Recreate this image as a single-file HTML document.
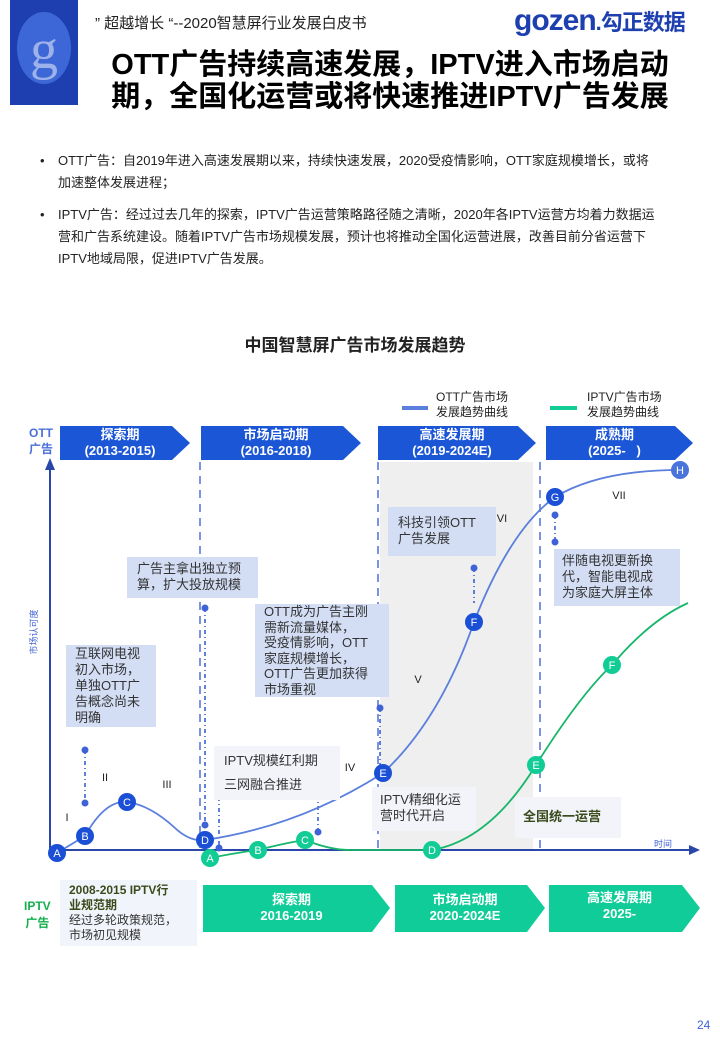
<!DOCTYPE html>
<html><head><meta charset="utf-8">
<style>
body{margin:0;background:#fff;}
#p{position:relative;width:720px;height:1040px;overflow:hidden;font-family:"Liberation Sans","Noto Sans CJK SC",sans-serif;color:#222;}
.a{position:absolute;white-space:nowrap;}
.box{position:absolute;background:#d3def5;font-size:13px;line-height:16px;color:#333;padding:3px 8px;box-sizing:border-box;white-space:nowrap;}
</style></head><body><div id="p">
<svg class="a" style="left:0;top:0" width="720" height="1040">
<rect x="10" y="0" width="68" height="105" fill="#1e3fb0"/>
<ellipse cx="44" cy="48" rx="27" ry="36" fill="#3d66d6"/>
<text x="44" y="68" font-size="56" font-family="Liberation Serif" fill="#9db2ea" text-anchor="middle">g</text>
<rect x="380" y="462" width="153" height="388" fill="#efefef"/>
<g fill="#1b56d6">
<polygon points="60,426 172,426 190,443 172,460 60,460"/>
<polygon points="201,426 343,426 361,443 343,460 201,460"/>
<polygon points="378,426 518,426 536,443 518,460 378,460"/>
<polygon points="546,426 675,426 693,443 675,460 546,460"/>
</g>
<g fill="#10cc98">
<polygon points="203,885 372,885 390,908 372,932 203,932"/>
<polygon points="395,885 527,885 545,908 527,932 395,932"/>
<polygon points="549,885 682,885 700,908 682,932 549,932"/>
</g>
<g stroke="#7b93e0" stroke-width="2" stroke-dasharray="8,6">
<line x1="200" y1="462" x2="200" y2="850"/>
<line x1="378" y1="462" x2="378" y2="850"/>
<line x1="540" y1="462" x2="540" y2="850"/>
</g>
<line x1="50" y1="465" x2="50" y2="850" stroke="#2a46a8" stroke-width="2"/>
<polygon points="50,458 45,470 55,470" fill="#2a46a8"/>
<line x1="50" y1="850" x2="692" y2="850" stroke="#2a46a8" stroke-width="2"/>
<polygon points="700,850 689,845 689,855" fill="#2a46a8"/>
<line x1="402" y1="408" x2="428" y2="408" stroke="#5a7fdc" stroke-width="4"/>
<line x1="550" y1="408" x2="577" y2="408" stroke="#12cc96" stroke-width="4"/>
<g stroke="#2a56d0" stroke-width="1.5" stroke-dasharray="4,3,1,3" fill="#2a56d0">
<line x1="85" y1="750" x2="85" y2="803"/><line x1="205" y1="608" x2="205" y2="825"/>
<line x1="219" y1="786" x2="219" y2="848"/><line x1="318" y1="795" x2="318" y2="832"/>
<line x1="380" y1="708" x2="380" y2="770"/><line x1="474" y1="568" x2="474" y2="603"/>
<line x1="555" y1="515" x2="555" y2="542"/>
</g>
<g fill="#3f63d6">
<circle cx="85" cy="750" r="3.5"/><circle cx="85" cy="803" r="3.5"/>
<circle cx="205" cy="608" r="3.5"/><circle cx="205" cy="825" r="3.5"/>
<circle cx="219" cy="786" r="3.5"/><circle cx="219" cy="848" r="3.5"/>
<circle cx="318" cy="795" r="3.5"/><circle cx="318" cy="832" r="3.5"/>
<circle cx="380" cy="708" r="3.5"/><circle cx="474" cy="568" r="3.5"/>
<circle cx="555" cy="515" r="3.5"/><circle cx="555" cy="542" r="3.5"/>
</g>
<path d="M57,853 Q75,842 85,836 Q105,800 127,802 Q150,805 175,828 Q190,842 205,840 Q300,826 383,773 Q440,720 474,622 Q510,530 555,497 Q600,470 680,470" fill="none" stroke="#5a7fdc" stroke-width="1.8"/>
<path d="M210,858 Q240,852 258,850 Q285,843 305,840 Q330,850 350,850 L432,850 Q490,840 536,765 Q580,695 612,665 Q650,620 688,603" fill="none" stroke="#17b66a" stroke-width="1.8"/>
<g font-size="11" fill="#fff" text-anchor="middle">
<g fill="#1b4fd6"><circle cx="57" cy="853" r="9"/><circle cx="85" cy="836" r="9"/><circle cx="127" cy="802" r="9"/><circle cx="205" cy="840" r="9"/><circle cx="383" cy="773" r="9"/><circle cx="474" cy="622" r="9"/><circle cx="555" cy="497" r="9"/><circle cx="680" cy="470" r="9" fill="#4a74dc"/></g>
<g fill="#12cc96"><circle cx="210" cy="858" r="9"/><circle cx="258" cy="850" r="9"/><circle cx="305" cy="840" r="9"/><circle cx="432" cy="850" r="9"/><circle cx="536" cy="765" r="9"/><circle cx="612" cy="665" r="9"/></g>
<text x="57" y="857">A</text><text x="85" y="840">B</text><text x="127" y="806">C</text><text x="205" y="844">D</text><text x="383" y="777">E</text><text x="474" y="626">F</text><text x="555" y="501">G</text><text x="680" y="474">H</text>
<text x="210" y="862">A</text><text x="258" y="854">B</text><text x="305" y="844">C</text><text x="432" y="854">D</text><text x="536" y="769">E</text><text x="612" y="669">F</text>
</g>
<g font-size="11" fill="#222" text-anchor="middle">
<text x="67" y="821">I</text><text x="105" y="781">II</text><text x="167" y="788">III</text><text x="350" y="771">IV</text><text x="418" y="683">V</text><text x="502" y="522">VI</text><text x="619" y="499">VII</text>
</g>
<text x="663" y="847" font-size="9" fill="#3f63d6" text-anchor="middle">时间</text>
<text transform="translate(37,632) rotate(-90)" font-size="9" fill="#3f63d6" text-anchor="middle">市场认可度</text>
</svg>

<div class="a" style="left:95px;top:12px;font-size:15px;color:#222">” 超越增长 “--2020智慧屏行业发展白皮书</div>
<div class="a" style="left:514px;top:4px;font-size:30px;font-weight:bold;color:#1e3fb0;letter-spacing:-1px">gozen<span style="font-size:22px">.勾正数据</span></div>
<div class="a" style="left:90px;top:49px;width:600px;text-align:center;font-size:29px;font-weight:bold;line-height:32px;color:#000">OTT广告持续高速发展，IPTV进入市场启动<br>期，全国化运营或将快速推进IPTV广告发展</div>

<div class="a" style="left:40px;top:150px;font-size:13px;line-height:22px;color:#222">
<div style="position:relative;padding-left:18px"><span style="position:absolute;left:0">•</span>OTT广告：自2019年进入高速发展期以来，持续快速发展，2020受疫情影响，OTT家庭规模增长，或将<br>加速整体发展进程；</div>
<div style="position:relative;padding-left:18px;margin-top:10px"><span style="position:absolute;left:0">•</span>IPTV广告：经过过去几年的探索，IPTV广告运营策略路径随之清晰，2020年各IPTV运营方均着力数据运<br>营和广告系统建设。随着IPTV广告市场规模发展，预计也将推动全国化运营进展，改善目前分省运营下<br>IPTV地域局限，促进IPTV广告发展。</div>
</div>
<div class="a" style="left:0;width:710px;top:331px;text-align:center;font-size:17px;font-weight:bold;color:#222">中国智慧屏广告市场发展趋势</div>

<div class="a" style="left:436px;top:390px;font-size:12px;line-height:15px">OTT广告市场<br>发展趋势曲线</div>
<div class="a" style="left:587px;top:390px;font-size:12px;line-height:15px">IPTV广告市场<br>发展趋势曲线</div>
<div class="a" style="left:29px;top:425px;font-size:12px;line-height:16px;font-weight:bold;color:#4a6fd8">OTT<br>广告</div>
<div class="a" style="left:24px;top:898px;font-size:12px;line-height:17px;font-weight:bold;color:#14b04c;text-align:center">IPTV<br>广告</div>

<div class="a" style="left:60px;top:427px;width:120px;text-align:center;color:#fff;font-weight:bold;font-size:13px;line-height:16px">探索期<br>(2013-2015)</div>
<div class="a" style="left:201px;top:427px;width:150px;text-align:center;color:#fff;font-weight:bold;font-size:13px;line-height:16px">市场启动期<br>(2016-2018)</div>
<div class="a" style="left:378px;top:427px;width:148px;text-align:center;color:#fff;font-weight:bold;font-size:13px;line-height:16px">高速发展期<br>(2019-2024E)</div>
<div class="a" style="left:546px;top:427px;width:137px;text-align:center;color:#fff;font-weight:bold;font-size:13px;line-height:16px">成熟期<br>(2025-&nbsp;&nbsp;&nbsp;)</div>

<div class="a" style="left:203px;top:892px;width:177px;text-align:center;color:#fff;font-weight:bold;font-size:13px;line-height:16px">探索期<br>2016-2019</div>
<div class="a" style="left:395px;top:892px;width:140px;text-align:center;color:#fff;font-weight:bold;font-size:13px;line-height:16px">市场启动期<br>2020-2024E</div>
<div class="a" style="left:549px;top:890px;width:141px;text-align:center;color:#fff;font-weight:bold;font-size:13px;line-height:16px">高速发展期<br>2025-</div>

<div class="box" style="left:127px;top:557px;width:131px;height:41px;padding:4px 10px">广告主拿出独立预<br>算，扩大投放规模</div>
<div class="box" style="left:66px;top:645px;width:90px;height:82px;padding:1px 9px">互联网电视<br>初入市场，<br>单独OTT广<br>告概念尚未<br>明确</div>
<div class="box" style="left:255px;top:604px;width:134px;height:93px;padding:0 9px;line-height:15.5px">OTT成为广告主刚<br>需新流量媒体，<br>受疫情影响，OTT<br>家庭规模增长，<br>OTT广告更加获得<br>市场重视</div>
<div class="box" style="left:214px;top:746px;width:126px;height:54px;background:#f2f4fa;line-height:24px;padding:3px 10px">IPTV规模红利期<br>三网融合推进</div>
<div class="box" style="left:388px;top:507px;width:108px;height:49px;padding:8px 10px">科技引领OTT<br>广告发展</div>
<div class="box" style="left:554px;top:549px;width:126px;height:57px;padding:4px 8px">伴随电视更新换<br>代，智能电视成<br>为家庭大屏主体</div>
<div class="box" style="left:372px;top:787px;width:104px;height:44px;background:#f2f4fa;padding:5px 8px">IPTV精细化运<br>营时代开启</div>
<div class="box" style="left:515px;top:797px;width:106px;height:41px;background:#f2f4fa;padding:12px 8px;font-weight:bold;color:#3a4a1a">全国统一运营</div>
<div class="box" style="left:60px;top:880px;width:137px;height:66px;background:#f2f4fb;padding:3px 9px;font-size:12px;line-height:15px"><b style="color:#3a4a1a">2008-2015 IPTV行<br>业规范期</b><br>经过多轮政策规范，<br>市场初见规模</div>

<div class="a" style="left:697px;top:1018px;font-size:12px;color:#3f63d6">24</div>
</div></body></html>
